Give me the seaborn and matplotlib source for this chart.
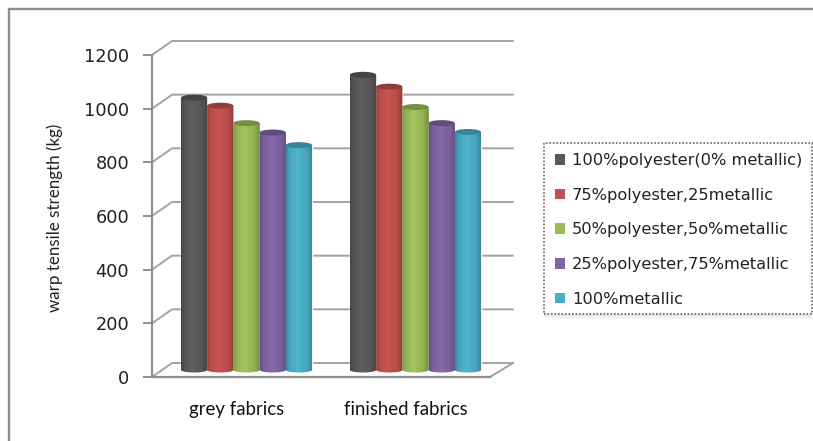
import numpy as np
import pandas as pd
import matplotlib
matplotlib.use("Agg")
import matplotlib.pyplot as plt
import matplotlib.patches as mpatches
import matplotlib.transforms as mtrans
from matplotlib.lines import Line2D
from matplotlib.path import Path
import seaborn as sns

fabrics = ["grey fabrics", "finished fabrics"]
blends = [
    "100%polyester(0% metallic)",
    "75%polyester,25metallic",
    "50%polyester,5o%metallic",
    "25%polyester,75%metallic",
    "100%metallic",
]
grey_values = [1015, 985, 920, 885, 838]
finished_values = [1100, 1056, 980, 920, 887]
y_ticks = [0, 200, 400, 600, 800, 1000, 1200]
bar_colors = ["#595959", "#c0504d", "#9bbb59", "#8064a2", "#4bacc6"]

W, H, DPI = 813, 441, 100
AXIS_GREY = "#8e8e8e"
GRID_GREY = "#a3a3a3"

sns.set_style("white")
plt.rcParams["font.family"] = ["DejaVu Sans"]

df = pd.DataFrame({
    "fabric": [f for f in fabrics for _ in blends],
    "blend": blends * 2,
    "strength": grey_values + finished_values,
})

fig = plt.figure(figsize=(W / DPI, H / DPI), dpi=DPI, facecolor="white")
left, right, top, bottom = 152, 490, 55, 377
ax = fig.add_axes([left / W, 1 - bottom / H, (right - left) / W, (bottom - top) / H])
ax.patch.set_alpha(0)

sns.barplot(data=df, x="fabric", y="strength", hue="blend", hue_order=blends,
            order=fabrics, palette=bar_colors, width=0.776, gap=0, saturation=1,
            legend=False, ax=ax, zorder=3)
xlim, ylim = (-0.5, 1.5), (0, 1200)

# Pixel sizes converted to data units for the pseudo-3D depth
px_x = (xlim[1] - xlim[0]) / (right - left)
px_y = (ylim[1] - ylim[0]) / (bottom - top)
depth = ax.transData + mtrans.Affine2D().translate(10, 7)

# Back wall, floor and the diagonal links from each tick
wall_left, wall_right, wall_dy = 20 * px_x, 23 * px_x, 14 * px_y
for v in y_ticks:
    ax.plot([xlim[0], xlim[0] + wall_left, xlim[1] + wall_right],
            [v, v + wall_dy, v + wall_dy], color=GRID_GREY, lw=1.4,
            clip_on=False, zorder=1, solid_joinstyle="miter")
ax.plot([xlim[1], xlim[1] + wall_right], [0, wall_dy], color=GRID_GREY, lw=1.4,
        clip_on=False, zorder=1)

# Cylinder shading on top of the seaborn bars
stops = [0.0, 0.12, 0.42, 0.8, 1.0]
gains = [0.78, 0.95, 1.05, 0.95, 0.74]
cap_h = 6 * px_y
base_h = 5 * px_y
patches = sorted(ax.patches, key=lambda p: p.get_x())
for i, bar in enumerate(patches):
    x0, w, h = bar.get_x(), bar.get_width(), bar.get_height()
    rgb = np.array(matplotlib.colors.to_rgb(bar.get_facecolor()))
    t = np.linspace(0, 1, 48)
    shade = np.interp(t, stops, gains)[:, None] * rgb
    z = 4 + i * 0.1
    bar.set_transform(depth)
    im = ax.imshow(np.clip(shade, 0, 1)[None, :, :], aspect="auto",
                   extent=(x0, x0 + w, -base_h, h), interpolation="bilinear",
                   transform=depth, zorder=z)
    outline = Path.make_compound_path(
        Path.unit_rectangle().transformed(
            mtrans.Affine2D().scale(w, h).translate(x0, 0)),
        Path.unit_circle().transformed(
            mtrans.Affine2D().scale(w / 2, base_h / 2).translate(x0 + w / 2, 0)),
    )
    im.set_clip_path(outline, depth)
    im.set_clip_on(True)
    cap = mpatches.Ellipse((x0 + w / 2, h), w, cap_h, transform=depth,
                           facecolor=np.clip(rgb * 0.76, 0, 1), edgecolor="none",
                           zorder=z + 0.01, clip_on=False)
    ax.add_patch(cap)

ax.set_xlim(xlim)
ax.set_ylim(ylim)
ax.set_yticks(y_ticks)
ax.set_xlabel("")
ax.set_ylabel("warp tensile strength (kg)", fontsize=12.2, family="Lato", color="#222222")
ax.yaxis.set_label_coords((63 - left) / (right - left), (bottom - 217.5) / (bottom - top))
ax.tick_params(axis="y", length=6.5, width=1.4, color=AXIS_GREY, pad=10,
               labelsize=12.8, labelcolor="#222222", left=True)
ax.tick_params(axis="x", length=0, pad=17, labelsize=13.4, labelcolor="#111111")
for lab in ax.get_xticklabels():
    lab.set_family("Lato")
sns.despine(ax=ax, top=True, right=True)
for side in ("left", "bottom"):
    ax.spines[side].set_color(AXIS_GREY)
    ax.spines[side].set_linewidth(1.6)
    ax.spines[side].set_zorder(2)

# Outer chart border, running off the right and lower edges
fig.add_artist(Line2D([9 / W, 9 / W, 1], [0, 1 - 9 / H, 1 - 9 / H], color=AXIS_GREY,
                      lw=1.7, solid_joinstyle="miter"))

# Legend panel with a dotted outline and soft shadow
bx0, bx1, by0, by1 = 544, 812, 143, 314
for g, a in zip((5, 3.5, 2), (0.05, 0.06, 0.08)):
    fig.add_artist(mpatches.Rectangle((bx0 / W, 1 - (by1 + g) / H), (bx1 - bx0) / W,
                                      (by1 - by0 + g) / H, facecolor="#888888", alpha=a,
                                      edgecolor="none", zorder=5))
fig.add_artist(mpatches.Rectangle((bx0 / W, 1 - by1 / H), (bx1 - bx0) / W, (by1 - by0) / H,
                                  facecolor="white", edgecolor="#666666", lw=1.2,
                                  linestyle=(0, (1, 1.1)), zorder=6))
handles = [mpatches.Patch(facecolor=c, edgecolor="none") for c in bar_colors]
leg = ax.legend(handles, blends, loc="upper left",
                bbox_to_anchor=(555 / W, 1 - 153 / H), bbox_transform=fig.transFigure,
                frameon=False, fontsize=11.7, handlelength=0.62, handleheight=0.62,
                handletextpad=0.43, labelspacing=1.21, borderaxespad=0, borderpad=0,
                labelcolor="#222222")
leg.set_zorder(7)
ax.set_zorder(8)

fig.savefig("out.png", dpi=DPI, facecolor="white")
